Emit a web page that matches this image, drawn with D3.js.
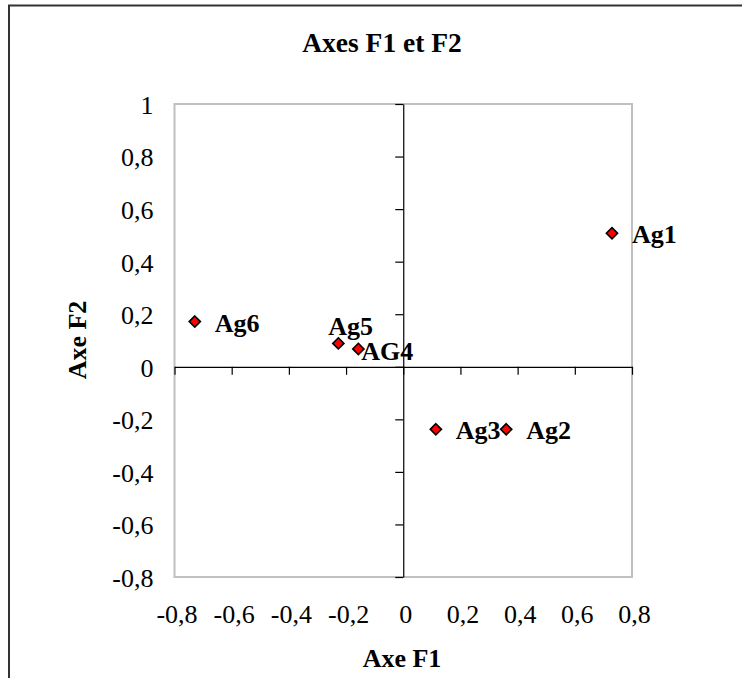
<!DOCTYPE html>
<html>
<head>
<meta charset="utf-8">
<script src="https://cdn.jsdelivr.net/npm/d3@7"></script>
<style>
  body { margin: 0; background: #fff; }
  svg { display: block; }
  svg text { font-family: "Liberation Serif", "Times New Roman", serif; }
  .tick text { font-size: 26px; fill: #000; }
</style>
</head>
<body>
<svg width="742" height="678"></svg>
<script>
// points
var names = ["Ag1", "Ag2", "Ag3", "AG4", "Ag5", "Ag6"],
    f1 = [0.730, 0.360, 0.114, -0.157, -0.227, -0.729],
    f2 = [0.508, -0.238, -0.238, 0.068, 0.089, 0.172];

var xTicks = [-0.8, -0.6, -0.4, -0.2, 0, 0.2, 0.4, 0.6, 0.8],
    yTicks = [-0.8, -0.6, -0.4, -0.2, 0, 0.2, 0.4, 0.6, 0.8, 1];

var title = "Axes F1 et F2",
    xTitle = "Axe F1",
    yTitle = "Axe F2";

// labels that were dragged away from the default "right" position
var labelNudge = {"Ag5": [-10, -8], "AG4": [3, 11]};

var svg = d3.select("svg"),
    plot = {left: 174.5, right: 632, top: 104, bottom: 577};

var x = d3.scaleLinear().domain([-0.8, 0.8]).range([plot.left, plot.right]),
    y = d3.scaleLinear().domain([-0.8, 1]).range([plot.bottom, plot.top]);

var fmt = function(d) { return String(+d.toFixed(1)).replace(".", ","); };

function plainText(g) {
  g.attr("font-family", null).attr("font-size", null);
  g.select(".domain").remove();
}

// outer chart border (right and bottom edges fall outside the picture)
svg.append("rect")
    .attr("x", 9).attr("y", 5.5)
    .attr("width", 800).attr("height", 800)
    .attr("fill", "none")
    .attr("stroke", "#333")
    .attr("stroke-width", 2);

svg.append("rect")
    .attr("x", plot.left).attr("y", plot.top)
    .attr("width", plot.right - plot.left)
    .attr("height", plot.bottom - plot.top)
    .attr("fill", "none")
    .attr("stroke", "#c0c0c0")
    .attr("stroke-width", 2);

svg.append("text")
    .attr("x", 382).attr("y", 52)
    .attr("text-anchor", "middle")
    .attr("font-size", 27.5)
    .attr("font-weight", "bold")
    .text(title);

// tick labels sit at the low edge of the plot area
svg.append("g")
    .attr("transform", "translate(" + plot.left + ",0)")
    .call(d3.axisLeft(y).tickValues(yTicks).tickFormat(fmt).tickSize(0).tickPadding(21))
    .call(plainText)
    .selectAll("text").attr("dy", "0.36em");

svg.append("g")
    .attr("transform", "translate(2," + plot.bottom + ")")
    .call(d3.axisBottom(x).tickValues(xTicks).tickFormat(fmt).tickSize(0).tickPadding(28))
    .call(plainText)
    .selectAll("text").attr("dy", "0.71em");

// axis lines crossing at the origin
svg.append("g")
    .attr("transform", "translate(0," + y(0) + ")")
    .call(d3.axisBottom(x).tickValues(xTicks).tickFormat("").tickSize(8).tickSizeOuter(0))
    .call(function(g) { g.selectAll("line, path").attr("stroke", "#000").attr("stroke-width", 1.2); });

svg.append("g")
    .attr("transform", "translate(" + x(0) + ",0)")
    .call(d3.axisLeft(y).tickValues(yTicks).tickFormat("").tickSize(8).tickSizeOuter(0))
    .call(function(g) { g.selectAll("line, path").attr("stroke", "#000").attr("stroke-width", 1.2); });

svg.append("text")
    .attr("x", 402).attr("y", 667)
    .attr("text-anchor", "middle")
    .attr("font-size", 26)
    .attr("font-weight", "bold")
    .text(xTitle);

svg.append("text")
    .attr("transform", "translate(86,340) rotate(-90)")
    .attr("text-anchor", "middle")
    .attr("font-size", 26)
    .attr("font-weight", "bold")
    .text(yTitle);

var points = names.map(function(n, i) { return {name: n, x: f1[i], y: f2[i]}; });

svg.append("g").selectAll("text")
    .data(points)
  .enter().append("text")
    .attr("x", function(d) { return x(d.x) + (labelNudge[d.name] ? labelNudge[d.name][0] : 20); })
    .attr("y", function(d) { return y(d.y) + (labelNudge[d.name] ? labelNudge[d.name][1] : 10); })
    .attr("font-size", 26)
    .attr("font-weight", "bold")
    .text(function(d) { return d.name; });

svg.append("g").selectAll("path")
    .data(points)
  .enter().append("path")
    .attr("transform", function(d) { return "translate(" + x(d.x) + "," + y(d.y) + ")"; })
    .attr("d", d3.symbol().type(d3.symbolDiamond2).size(80))
    .attr("fill", "#ff0000")
    .attr("stroke", "#000")
    .attr("stroke-width", 1.6);
</script>
</body>
</html>
